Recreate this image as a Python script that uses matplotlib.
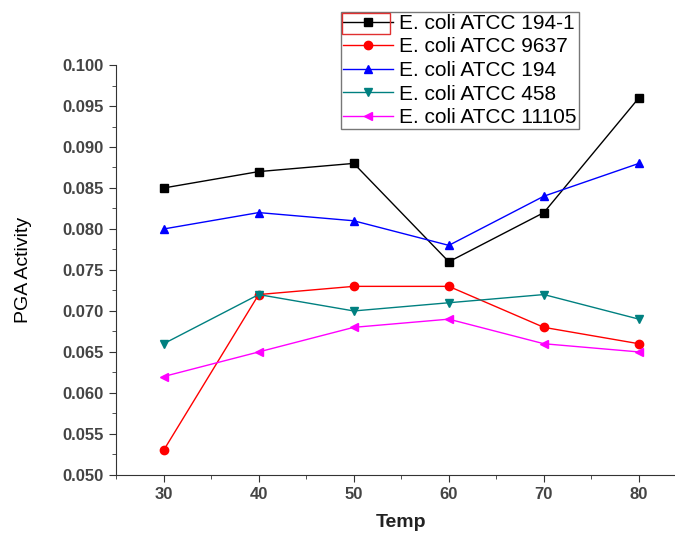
import matplotlib
matplotlib.use('Agg')
import matplotlib.pyplot as plt
from matplotlib.ticker import MultipleLocator
from matplotlib.patches import Rectangle

plt.rcParams['font.family'] = ['Liberation Sans', 'DejaVu Sans']

# datos
temp = [30, 40, 50, 60, 70, 80]
atcc_194_1 = [0.085, 0.087, 0.088, 0.076, 0.082, 0.096]
atcc_9637 = [0.053, 0.072, 0.073, 0.073, 0.068, 0.066]
atcc_194 = [0.080, 0.082, 0.081, 0.078, 0.084, 0.088]
atcc_458 = [0.066, 0.072, 0.070, 0.071, 0.072, 0.069]
atcc_11105 = [0.062, 0.065, 0.068, 0.069, 0.066, 0.065]

series = [
    ('E. coli ATCC 194-1', atcc_194_1, 'black', 's'),
    ('E. coli ATCC 9637', atcc_9637, 'red', 'o'),
    ('E. coli ATCC 194', atcc_194, 'blue', '^'),
    ('E. coli ATCC 458', atcc_458, '#008080', 'v'),
    ('E. coli ATCC 11105', atcc_11105, 'magenta', '<'),
]

fig = plt.figure(figsize=(6.75, 5.33), dpi=100)
ax = fig.add_axes([0.172, 0.109, 0.845, 0.769])

for nombre, vals, color, m in series:
    ax.plot(temp, vals, color=color, marker=m, markersize=6, linewidth=1,
            label=nombre)

ax.set_xlim(25, 85)
ax.set_ylim(0.050, 0.100)
ax.xaxis.set_major_locator(MultipleLocator(10))
ax.xaxis.set_minor_locator(MultipleLocator(5))
ax.yaxis.set_major_locator(MultipleLocator(0.005))
ax.yaxis.set_minor_locator(MultipleLocator(0.0025))
ax.yaxis.set_major_formatter(plt.FormatStrFormatter('%.3f'))

for s in ['top', 'right']:
    ax.spines[s].set_visible(False)
ax.spines['left'].set_color('#333333')
ax.spines['bottom'].set_color('#333333')

ax.tick_params(which='major', length=5, color='#333333', labelsize=12,
               labelcolor='#444444', pad=4)
ax.tick_params(which='minor', length=3, color='#333333')
for lab in ax.get_xticklabels() + ax.get_yticklabels():
    lab.set_fontweight('bold')

ax.set_xlabel('Temp', fontsize=14, fontweight='bold', color='#222222',
              labelpad=8)
ax.set_ylabel('PGA Activity', fontsize=14, color='black', labelpad=22)

leg = fig.legend(loc='upper left', bbox_to_anchor=(0.505, 0.978),
                 fontsize=15, frameon=True, fancybox=False,
                 edgecolor='#555555', borderpad=0.1, borderaxespad=0,
                 labelspacing=0.22, handlelength=2.4, handletextpad=0.3)
leg.get_frame().set_linewidth(1)

# recuadro rojo del primer elemento de la leyenda
fig.patches.append(Rectangle((0.507, 0.937), 0.071, 0.039,
                             transform=fig.transFigure, fill=False,
                             edgecolor='#e03030', linewidth=1, zorder=10))

fig.savefig('out.png', dpi=100)
